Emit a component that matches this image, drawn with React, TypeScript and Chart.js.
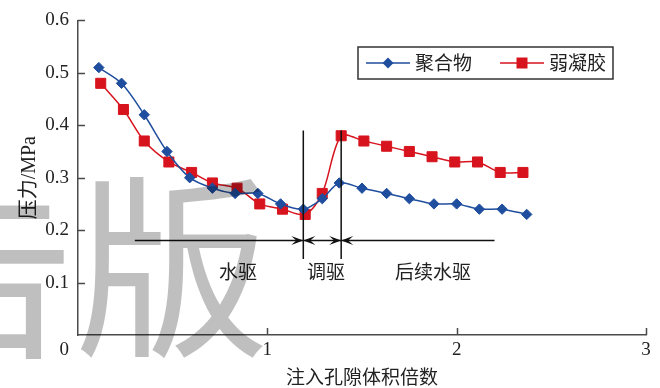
import { useEffect, useRef } from 'react';
import { Chart, registerables } from 'chart.js';

Chart.register(...registerables);

// Injected pore volumes (PV) and pressures (MPa) for each scheme
const xPolymer = [0.11, 0.23, 0.35, 0.47, 0.59, 0.71, 0.83, 0.95, 1.07, 1.19, 1.29, 1.38, 1.5, 1.63, 1.75, 1.88, 2.0, 2.12, 2.24, 2.37];
const yPolymer = [0.51, 0.48, 0.42, 0.35, 0.3, 0.28, 0.27, 0.27, 0.25, 0.24, 0.26, 0.29, 0.28, 0.27, 0.26, 0.25, 0.25, 0.24, 0.24, 0.23];
const xGel = [0.12, 0.24, 0.35, 0.48, 0.6, 0.71, 0.84, 0.96, 1.08, 1.2, 1.29, 1.39, 1.51, 1.63, 1.75, 1.87, 1.99, 2.11, 2.23, 2.35];
const yGel = [0.48, 0.43, 0.37, 0.33, 0.31, 0.29, 0.28, 0.25, 0.24, 0.23, 0.27, 0.38, 0.37, 0.36, 0.35, 0.34, 0.33, 0.33, 0.31, 0.31];

const seriesNames = ['聚合物', '弱凝胶'];
const xAxisTitle = '注入孔隙体积倍数';
const yAxisTitle = '压力/MPa';

// Stage boundaries and the stage arrows below the curves
const stageBoundaryX = [1.19, 1.39];
const stageBoundaryY = [0.145, 0.39];
const stageArrowY = 0.18;
const stageArrowFrom = [0.3, 1.19, 1.39];
const stageArrowTo = [1.19, 1.39, 2.2];
const stageArrowHeads = ['end', 'both', 'start'];
const stageNames = ['水驱', '调驱', '后续水驱'];
const stageNameX = [0.845, 1.31, 1.875];
const stageNameY = 0.12;

const watermarkText = '告版';

const BLUE = '#1F4E9E';
const RED = '#D7141E';
const AXIS = '#4a4a4a';
const TEXT = '#222222';
const SERIF = "'Liberation Serif', 'Noto Sans CJK SC', serif";
const CJK = "'Noto Sans CJK SC', 'Liberation Serif', sans-serif";

const toPoints = (xs: number[], ys: number[]) => xs.map((x, i) => ({ x, y: ys[i] }));

function arrowHead(ctx: CanvasRenderingContext2D, tipX: number, y: number, dir: number) {
  const len = 12;
  const half = 4.5;
  ctx.beginPath();
  ctx.moveTo(tipX, y);
  ctx.lineTo(tipX - dir * len, y - half);
  ctx.lineTo(tipX - dir * 7, y);
  ctx.lineTo(tipX - dir * len, y + half);
  ctx.closePath();
  ctx.fill();
}

const overlayPlugin = {
  id: 'overlay',
  afterDatasetsDraw(chart: any) {
    const { ctx, chartArea, scales } = chart;
    const xs = scales.x;
    const ys = scales.y;
    ctx.save();

    // inward tick marks
    ctx.strokeStyle = AXIS;
    ctx.lineWidth = 1.5;
    ctx.beginPath();
    for (let v = 1; v <= 6; v++) {
      const py = Math.round(ys.getPixelForValue(v / 10)) + 0.5;
      ctx.moveTo(chartArea.left, py);
      ctx.lineTo(chartArea.left + 7, py);
    }
    for (let v = 1; v <= 3; v++) {
      const px = Math.round(xs.getPixelForValue(v)) + 0.5;
      ctx.moveTo(px, chartArea.bottom);
      ctx.lineTo(px, chartArea.bottom - 7);
    }
    ctx.stroke();

    // origin label
    ctx.fillStyle = TEXT;
    ctx.font = `19px ${SERIF}`;
    ctx.textAlign = 'right';
    ctx.textBaseline = 'middle';
    ctx.fillText('0', chartArea.left - 9, chartArea.bottom + 15);

    // stage boundaries
    ctx.strokeStyle = '#111';
    ctx.lineWidth = 1.5;
    ctx.beginPath();
    stageBoundaryX.forEach((bx) => {
      const px = xs.getPixelForValue(bx);
      ctx.moveTo(px, ys.getPixelForValue(stageBoundaryY[1]));
      ctx.lineTo(px, ys.getPixelForValue(stageBoundaryY[0]));
    });
    ctx.stroke();

    // stage arrows
    const ay = ys.getPixelForValue(stageArrowY);
    ctx.fillStyle = '#111';
    ctx.beginPath();
    stageArrowFrom.forEach((from, i) => {
      ctx.moveTo(xs.getPixelForValue(from), ay);
      ctx.lineTo(xs.getPixelForValue(stageArrowTo[i]), ay);
    });
    ctx.stroke();
    stageArrowFrom.forEach((from, i) => {
      const p0 = xs.getPixelForValue(from);
      const p1 = xs.getPixelForValue(stageArrowTo[i]);
      const kind = stageArrowHeads[i];
      if (kind === 'end' || kind === 'both') arrowHead(ctx, p1, ay, 1);
      if (kind === 'start' || kind === 'both') arrowHead(ctx, p0, ay, -1);
    });

    // stage names
    ctx.fillStyle = TEXT;
    ctx.font = `19px ${CJK}`;
    ctx.textAlign = 'center';
    ctx.textBaseline = 'middle';
    stageNames.forEach((name, i) => {
      ctx.fillText(name, xs.getPixelForValue(stageNameX[i]), ys.getPixelForValue(stageNameY));
    });

    // legend
    const lx = 358;
    const ly = 47;
    const lw = 255;
    const lh = 32;
    ctx.fillStyle = '#fff';
    ctx.fillRect(lx, ly, lw, lh);
    ctx.strokeStyle = '#333';
    ctx.lineWidth = 1.5;
    ctx.strokeRect(lx, ly, lw, lh);
    const cy = ly + lh / 2;
    const entries = [
      { x0: 366, color: BLUE, shape: 'diamond', text: seriesNames[0] },
      { x0: 500, color: RED, shape: 'square', text: seriesNames[1] },
    ];
    entries.forEach((e) => {
      ctx.strokeStyle = e.color;
      ctx.fillStyle = e.color;
      ctx.lineWidth = 1.5;
      ctx.beginPath();
      ctx.moveTo(e.x0, cy);
      ctx.lineTo(e.x0 + 44, cy);
      ctx.stroke();
      const mx = e.x0 + 22;
      ctx.beginPath();
      if (e.shape === 'diamond') {
        ctx.moveTo(mx - 5.5, cy);
        ctx.lineTo(mx, cy - 5.5);
        ctx.lineTo(mx + 5.5, cy);
        ctx.lineTo(mx, cy + 5.5);
        ctx.closePath();
      } else {
        ctx.rect(mx - 5.5, cy - 5.5, 11, 11);
      }
      ctx.fill();
      ctx.fillStyle = TEXT;
      ctx.font = `19px ${CJK}`;
      ctx.textAlign = 'left';
      ctx.textBaseline = 'middle';
      ctx.fillText(e.text, e.x0 + 49, cy);
    });

    ctx.restore();
  },
  afterDraw(chart: any) {
    const { ctx } = chart;
    ctx.save();
    ctx.fillStyle = 'rgba(0,0,0,0.25)';
    ctx.font = `195px ${CJK}`;
    ctx.textAlign = 'right';
    ctx.textBaseline = 'alphabetic';
    ctx.fillText(watermarkText, 270, 342);
    ctx.restore();
  },
};

export default function App() {
  const canvasRef = useRef<HTMLCanvasElement | null>(null);

  useEffect(() => {
    const canvas = canvasRef.current;
    if (!canvas) return;
    const chart = new Chart(canvas, {
      type: 'line',
      data: {
        datasets: [
          {
            label: seriesNames[0],
            data: toPoints(xPolymer, yPolymer),
            borderColor: BLUE,
            backgroundColor: BLUE,
            borderWidth: 1.5,
            pointStyle: 'rectRot',
            pointRadius: 5.2,
            pointBorderWidth: 1,
            pointBorderColor: BLUE,
            pointBackgroundColor: BLUE,
            tension: 0.3,
          },
          {
            label: seriesNames[1],
            data: toPoints(xGel, yGel),
            borderColor: RED,
            backgroundColor: RED,
            borderWidth: 1.5,
            pointStyle: 'rect',
            pointRadius: 7.1,
            pointBorderWidth: 1,
            pointBorderColor: RED,
            pointBackgroundColor: RED,
            tension: 0.3,
          },
        ],
      },
      options: {
        responsive: false,
        animation: false,
        layout: { padding: { left: 0, right: 14, top: 17, bottom: 0 } },
        plugins: {
          legend: { display: false },
          tooltip: { enabled: false },
        },
        scales: {
          x: {
            type: 'linear',
            min: 0,
            max: 3,
            afterFit: (scale: any) => {
              scale.height = 53;
            },
            grid: { display: false, drawTicks: false },
            border: { display: true, color: AXIS, width: 1.5 },
            ticks: {
              stepSize: 1,
              padding: 4,
              color: TEXT,
              font: { family: SERIF, size: 19 },
              callback: (v: any) => (v === 0 ? '' : String(v)),
            },
            title: {
              display: true,
              text: xAxisTitle,
              color: TEXT,
              font: { family: CJK, size: 19 },
              padding: { top: 0, bottom: 0 },
            },
          },
          y: {
            type: 'linear',
            min: 0,
            max: 0.6,
            afterFit: (scale: any) => {
              scale.width = 78;
            },
            grid: { display: false, drawTicks: false },
            border: { display: true, color: AXIS, width: 1.5 },
            ticks: {
              stepSize: 0.1,
              padding: 9,
              color: TEXT,
              font: { family: SERIF, size: 19 },
              callback: (v: any) => (Math.abs(v) < 1e-9 ? '' : Number(v).toFixed(1)),
            },
            title: {
              display: true,
              text: yAxisTitle,
              color: TEXT,
              font: { family: SERIF, size: 20 },
              padding: { top: 18, bottom: 0 },
            },
          },
        },
      },
      plugins: [overlayPlugin],
    });
    return () => chart.destroy();
  }, []);

  return (
    <div style={{ position: 'fixed', left: 0, top: 0, width: 660, height: 388, background: '#fff' }}>
      <canvas ref={canvasRef} width={660} height={388} style={{ display: 'block' }} />
    </div>
  );
}
